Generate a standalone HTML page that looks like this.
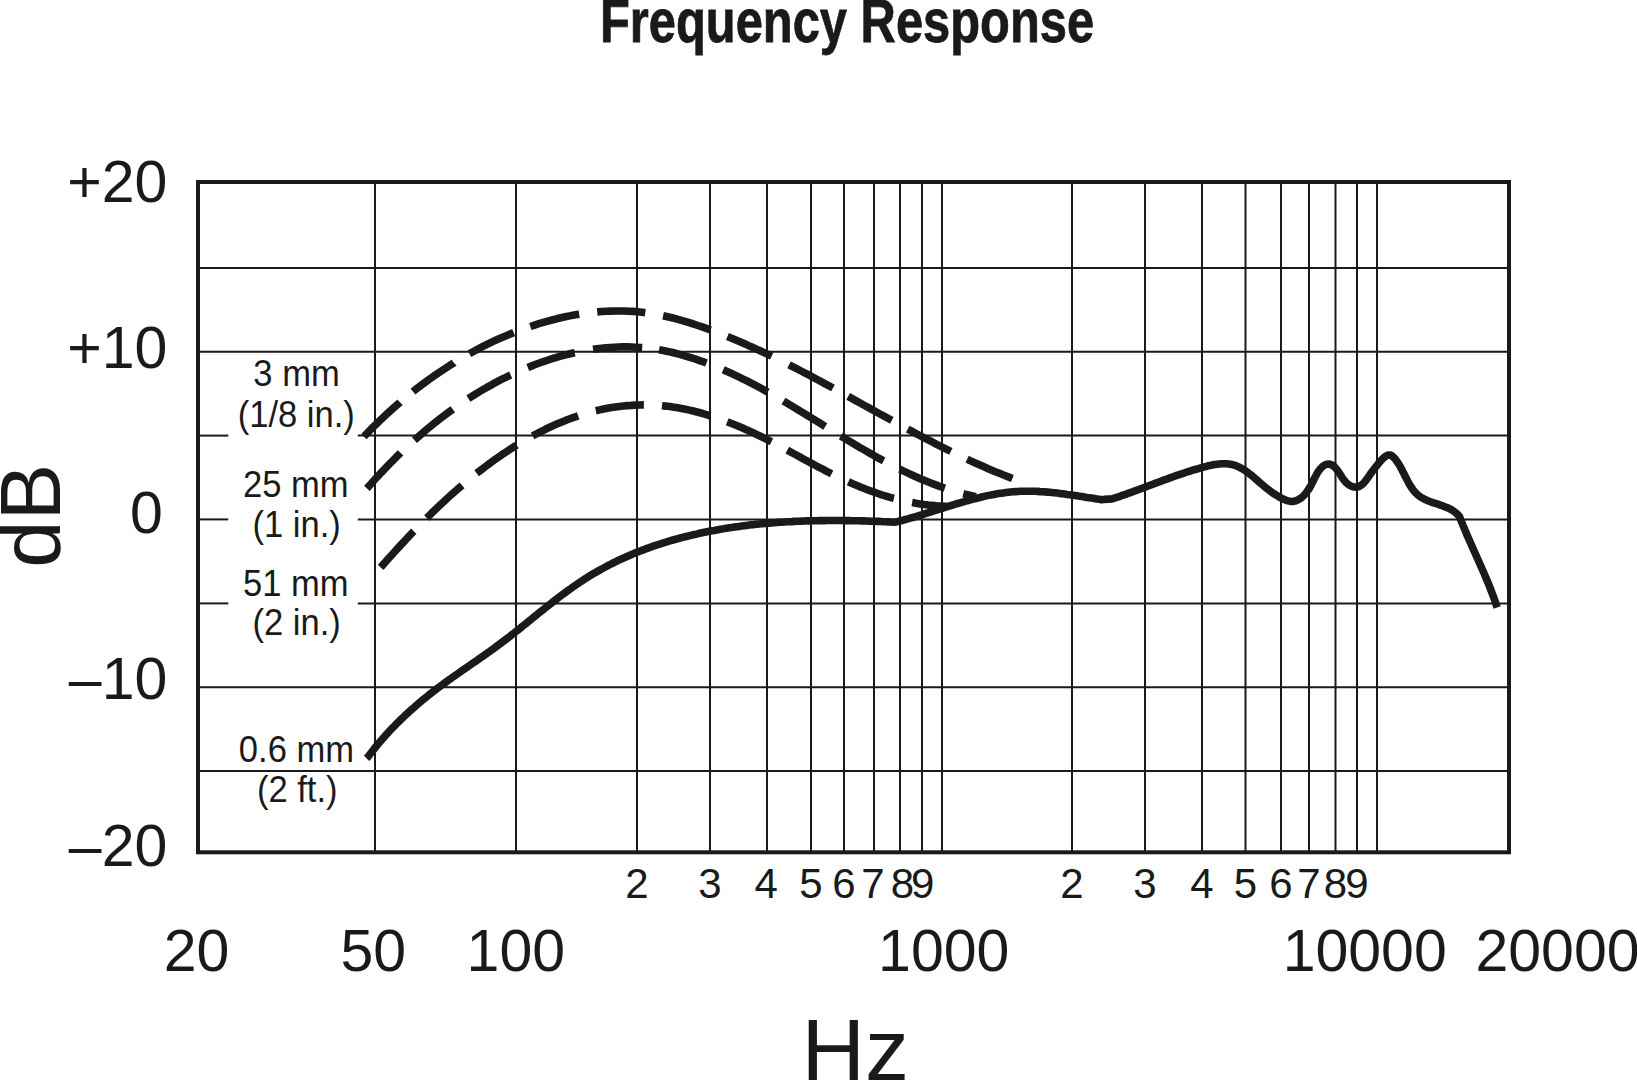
<!DOCTYPE html>
<html><head><meta charset="utf-8"><style>
html,body{margin:0;padding:0;background:#fff;width:1637px;height:1080px;overflow:hidden}
svg{position:absolute;left:0;top:0;display:block}
text{font-family:"Liberation Sans",sans-serif;fill:#1a1a1a}
</style></head><body>
<svg width="1637" height="1080" viewBox="0 0 1637 1080">
<g stroke="#1a1a1a" stroke-width="2" fill="none">
<line x1="375" y1="182" x2="375" y2="852.3"/>
<line x1="516" y1="182" x2="516" y2="852.3"/>
<line x1="637" y1="182" x2="637" y2="852.3"/>
<line x1="710" y1="182" x2="710" y2="852.3"/>
<line x1="767" y1="182" x2="767" y2="852.3"/>
<line x1="811" y1="182" x2="811" y2="852.3"/>
<line x1="844" y1="182" x2="844" y2="852.3"/>
<line x1="874" y1="182" x2="874" y2="852.3"/>
<line x1="900" y1="182" x2="900" y2="852.3"/>
<line x1="922" y1="182" x2="922" y2="852.3"/>
<line x1="942" y1="182" x2="942" y2="852.3"/>
<line x1="1072" y1="182" x2="1072" y2="852.3"/>
<line x1="1145" y1="182" x2="1145" y2="852.3"/>
<line x1="1202" y1="182" x2="1202" y2="852.3"/>
<line x1="1245.5" y1="182" x2="1245.5" y2="852.3"/>
<line x1="1281" y1="182" x2="1281" y2="852.3"/>
<line x1="1309" y1="182" x2="1309" y2="852.3"/>
<line x1="1335.5" y1="182" x2="1335.5" y2="852.3"/>
<line x1="1357" y1="182" x2="1357" y2="852.3"/>
<line x1="1377" y1="182" x2="1377" y2="852.3"/>
<line x1="198" y1="268" x2="1509" y2="268"/>
<line x1="198" y1="351.7" x2="1509" y2="351.7"/>
<line x1="198" y1="435.6" x2="228.3" y2="435.6"/>
<line x1="357.8" y1="435.6" x2="1509" y2="435.6"/>
<line x1="198" y1="519.4" x2="228.3" y2="519.4"/>
<line x1="357.8" y1="519.4" x2="1509" y2="519.4"/>
<line x1="198" y1="603.4" x2="228.3" y2="603.4"/>
<line x1="357.8" y1="603.4" x2="1509" y2="603.4"/>
<line x1="198" y1="687.2" x2="1509" y2="687.2"/>
<line x1="198" y1="771.1" x2="1509" y2="771.1"/>
</g>
<rect x="198" y="182" width="1311" height="670.3" fill="none" stroke="#1a1a1a" stroke-width="4"/>
<g stroke="#1a1a1a" stroke-width="7.6" fill="none" stroke-linecap="butt" stroke-linejoin="round">
<path d="M366.5 758.3 L368.2 756.6 L369.7 754.5 L371.3 752.5 L372.8 750.6 L374.4 748.6 L375.9 746.6 L377.5 744.7 L379.1 742.8 L380.8 740.9 L382.4 739.0 L384.1 737.1 L385.7 735.2 L387.4 733.4 L389.1 731.5 L390.8 729.7 L392.5 727.9 L394.3 726.1 L396.0 724.3 L397.8 722.6 L399.6 720.8 L401.3 719.1 L403.1 717.4 L404.9 715.6 L406.8 713.9 L408.6 712.3 L410.4 710.6 L412.3 708.9 L414.2 707.3 L416.0 705.7 L417.9 704.0 L419.8 702.4 L421.7 700.8 L423.6 699.3 L425.5 697.7 L427.5 696.1 L429.4 694.6 L431.4 693.0 L433.3 691.5 L435.3 690.0 L437.2 688.5 L439.2 687.0 L441.2 685.5 L443.2 684.1 L445.2 682.6 L447.2 681.1 L449.2 679.7 L451.2 678.3 L453.2 676.8 L455.3 675.4 L457.3 674.0 L459.3 672.6 L461.4 671.1 L463.4 669.7 L465.4 668.3 L467.5 666.9 L469.5 665.5 L471.5 664.1 L473.6 662.7 L475.6 661.3 L477.7 659.9 L479.7 658.4 L481.7 657.0 L483.8 655.6 L485.8 654.2 L487.8 652.7 L489.9 651.3 L491.9 649.8 L493.9 648.4 L495.9 646.9 L497.9 645.4 L499.9 643.9 L501.9 642.4 L503.9 640.9 L505.9 639.4 L507.9 637.9 L509.8 636.4 L511.8 634.8 L513.8 633.3 L515.7 631.7 L517.7 630.2 L519.7 628.6 L521.6 627.0 L523.6 625.4 L525.5 623.9 L527.5 622.3 L529.4 620.7 L531.4 619.1 L533.3 617.6 L535.3 616.0 L537.2 614.4 L539.2 612.8 L541.1 611.3 L543.1 609.7 L545.1 608.1 L547.0 606.6 L549.0 605.0 L551.0 603.5 L552.9 601.9 L554.9 600.4 L556.9 598.9 L558.9 597.3 L560.9 595.8 L562.8 594.3 L564.8 592.9 L566.8 591.4 L568.9 589.9 L570.9 588.5 L572.9 587.0 L574.9 585.6 L577.0 584.2 L579.0 582.8 L581.1 581.4 L583.2 580.1 L585.2 578.7 L587.3 577.4 L589.4 576.1 L591.5 574.8 L593.6 573.5 L595.8 572.3 L597.9 571.1 L600.1 569.9 L602.2 568.7 L604.4 567.5 L606.6 566.3 L608.7 565.2 L610.9 564.1 L613.1 563.0 L615.3 561.9 L617.6 560.8 L619.8 559.7 L622.0 558.7 L624.3 557.7 L626.5 556.7 L628.8 555.7 L631.0 554.7 L633.3 553.8 L635.6 552.8 L637.9 551.9 L640.2 551.0 L642.5 550.1 L644.8 549.3 L647.1 548.4 L649.4 547.6 L651.8 546.7 L654.1 545.9 L656.5 545.1 L658.8 544.4 L661.2 543.6 L663.5 542.8 L665.9 542.1 L668.3 541.4 L670.6 540.7 L673.0 540.0 L675.4 539.3 L677.8 538.7 L680.2 538.0 L682.6 537.4 L685.0 536.8 L687.5 536.2 L689.9 535.6 L692.3 535.0 L694.7 534.4 L697.2 533.9 L699.6 533.3 L702.1 532.8 L704.5 532.3 L707.0 531.8 L709.4 531.3 L711.9 530.8 L714.3 530.4 L716.8 529.9 L719.3 529.5 L721.8 529.1 L724.2 528.6 L726.7 528.2 L729.2 527.8 L731.7 527.5 L734.2 527.1 L736.6 526.7 L739.1 526.4 L741.6 526.1 L744.1 525.7 L746.6 525.4 L749.1 525.1 L751.6 524.8 L754.1 524.6 L756.6 524.3 L759.1 524.0 L761.6 523.8 L764.2 523.6 L766.7 523.3 L769.2 523.1 L771.7 522.9 L774.2 522.7 L776.7 522.5 L779.2 522.3 L781.7 522.2 L784.2 522.0 L786.7 521.8 L789.3 521.7 L791.8 521.6 L794.3 521.4 L796.8 521.3 L799.3 521.2 L801.8 521.1 L804.3 521.0 L806.8 520.9 L809.3 520.9 L811.8 520.8 L814.3 520.7 L816.8 520.7 L819.3 520.6 L821.8 520.6 L824.3 520.6 L826.8 520.5 L829.3 520.5 L831.8 520.5 L834.3 520.5 L836.8 520.5 L839.3 520.5 L841.7 520.5 L844.2 520.6 L846.7 520.6 L849.2 520.6 L851.6 520.7 L854.1 520.7 L856.6 520.7 L859.0 520.8 L861.5 520.9 L863.9 520.9 L866.4 521.0 L868.8 521.1 L871.2 521.2 L873.7 521.3 L876.1 521.4 L878.5 521.4 L881.0 521.5 L883.4 521.7 L885.8 521.8 L888.2 521.9 L890.6 522.0 L893.5 522.3 L896.0 522.0 L898.4 521.4 L900.7 520.8 L903.1 520.2 L905.5 519.5 L907.8 518.9 L910.2 518.2 L912.6 517.5 L915.0 516.8 L917.3 516.1 L919.7 515.4 L922.1 514.7 L924.4 513.9 L926.8 513.2 L929.2 512.4 L931.6 511.7 L933.9 510.9 L936.3 510.2 L938.7 509.4 L941.1 508.7 L943.4 507.9 L945.8 507.2 L948.2 506.4 L950.6 505.7 L953.0 505.0 L955.3 504.2 L957.7 503.5 L960.1 502.8 L962.5 502.1 L964.9 501.4 L967.3 500.7 L969.7 500.1 L972.1 499.4 L974.5 498.8 L976.9 498.2 L979.3 497.6 L981.7 497.0 L984.1 496.4 L986.5 495.9 L988.9 495.4 L991.3 494.9 L993.7 494.5 L996.1 494.0 L998.5 493.6 L1000.9 493.2 L1003.4 492.9 L1005.8 492.6 L1008.2 492.3 L1010.7 492.0 L1013.1 491.8 L1015.5 491.6 L1018.0 491.5 L1020.4 491.3 L1022.8 491.3 L1025.3 491.2 L1027.7 491.2 L1030.2 491.2 L1032.6 491.3 L1035.1 491.3 L1037.6 491.4 L1040.0 491.6 L1042.5 491.7 L1044.9 491.9 L1047.4 492.1 L1049.9 492.3 L1052.3 492.6 L1054.8 492.8 L1057.3 493.1 L1059.7 493.4 L1062.2 493.7 L1064.7 494.0 L1067.1 494.4 L1069.6 494.7 L1072.1 495.1 L1074.5 495.4 L1077.0 495.8 L1079.4 496.2 L1081.9 496.6 L1084.4 497.0 L1086.8 497.4 L1089.3 497.7 L1091.7 498.1 L1094.2 498.5 L1096.6 498.9 L1099.1 499.3 L1101.5 499.7 L1104.0 499.4 L1112.0 498.9 L1120.0 496.3 L1122.3 495.4 L1124.7 494.6 L1127.0 493.8 L1129.4 492.9 L1131.7 492.1 L1134.1 491.2 L1136.4 490.4 L1138.8 489.5 L1141.1 488.7 L1143.4 487.8 L1145.8 486.9 L1148.1 486.0 L1150.4 485.2 L1152.8 484.3 L1155.1 483.4 L1157.4 482.5 L1159.8 481.7 L1162.1 480.8 L1164.4 479.9 L1166.8 479.1 L1169.1 478.2 L1171.4 477.4 L1173.8 476.5 L1176.1 475.7 L1178.5 474.9 L1180.9 474.1 L1183.2 473.3 L1185.6 472.5 L1188.0 471.7 L1190.4 471.0 L1192.8 470.2 L1195.2 469.5 L1197.6 468.8 L1200.0 468.1 L1202.4 467.4 L1204.9 466.8 L1207.3 466.1 L1209.8 465.6 L1212.2 465.0 L1214.7 464.6 L1217.1 464.2 L1219.5 463.9 L1222.0 463.8 L1224.4 463.7 L1226.7 463.8 L1229.1 464.0 L1231.4 464.4 L1233.8 465.0 L1236.0 465.7 L1238.3 466.7 L1240.5 467.8 L1242.7 469.0 L1244.8 470.4 L1246.9 471.8 L1249.0 473.4 L1251.1 475.0 L1253.1 476.7 L1255.1 478.5 L1257.1 480.2 L1259.0 481.9 L1261.0 483.6 L1262.9 485.2 L1264.8 486.8 L1266.7 488.4 L1268.6 489.8 L1270.5 491.3 L1272.4 492.7 L1274.4 494.0 L1276.5 495.3 L1278.6 496.6 L1280.9 497.9 L1283.2 499.1 L1285.6 500.1 L1288.0 500.9 L1290.4 501.4 L1292.7 501.5 L1294.9 501.1 L1297.1 500.3 L1299.2 499.2 L1301.2 497.8 L1303.1 496.2 L1304.9 494.3 L1306.5 492.3 L1308.1 490.1 L1309.6 487.8 L1310.9 485.5 L1312.1 483.1 L1313.3 480.8 L1314.4 478.4 L1315.6 476.2 L1316.8 474.0 L1318.0 471.9 L1319.4 469.9 L1321.0 468.1 L1322.7 466.4 L1324.6 465.1 L1326.6 464.2 L1328.7 464.0 L1330.8 464.5 L1332.8 465.5 L1334.6 467.0 L1336.2 468.8 L1337.8 470.9 L1339.4 473.2 L1340.9 475.6 L1342.4 478.0 L1344.1 480.2 L1345.8 482.3 L1347.7 484.0 L1349.7 485.4 L1351.8 486.4 L1354.1 487.0 L1356.2 487.1 L1358.4 486.7 L1360.4 485.8 L1362.3 484.4 L1364.0 482.7 L1365.7 480.6 L1367.3 478.5 L1368.8 476.3 L1370.3 474.1 L1371.8 472.1 L1373.3 470.0 L1374.9 468.0 L1376.6 465.9 L1378.4 463.6 L1380.2 461.4 L1382.2 459.2 L1384.2 457.3 L1386.2 455.9 L1388.2 455.0 L1390.1 455.0 L1391.9 455.8 L1393.6 457.3 L1395.2 459.1 L1396.6 461.0 L1398.0 463.0 L1399.3 465.1 L1400.6 467.3 L1401.8 469.5 L1402.9 471.7 L1404.1 474.0 L1405.2 476.3 L1406.4 478.6 L1407.5 480.8 L1408.7 483.0 L1410.0 485.2 L1411.3 487.3 L1412.7 489.3 L1414.2 491.2 L1415.8 493.0 L1417.5 494.6 L1419.3 496.1 L1421.3 497.5 L1423.5 498.7 L1425.7 499.8 L1428.0 500.8 L1430.4 501.7 L1432.9 502.6 L1435.4 503.4 L1437.9 504.2 L1440.4 505.1 L1442.9 505.9 L1445.3 506.9 L1447.6 507.8 L1449.9 508.9 L1452.1 510.1 L1454.1 511.5 L1456.1 513.0 L1457.8 514.7 L1459.5 516.5 L1460.4 518.8 L1461.3 521.1 L1462.2 523.4 L1463.1 525.7 L1464.1 527.9 L1465.0 530.2 L1466.0 532.5 L1466.9 534.7 L1467.9 537.0 L1468.9 539.3 L1469.9 541.5 L1470.9 543.8 L1471.9 546.0 L1472.9 548.3 L1473.9 550.5 L1474.9 552.8 L1475.9 555.0 L1476.9 557.3 L1477.9 559.5 L1478.9 561.8 L1479.9 564.0 L1480.9 566.3 L1481.9 568.5 L1482.9 570.8 L1483.9 573.0 L1484.9 575.3 L1485.8 577.6 L1486.8 579.8 L1487.7 582.1 L1488.7 584.4 L1489.6 586.7 L1490.5 589.0 L1491.4 591.3 L1492.3 593.6 L1493.1 595.9 L1494.0 598.2 L1494.8 600.5 L1495.6 602.8 L1496.4 605.2 L1497.2 607.5"/>
<path d="M363.9 436.6 L367.0 433.4 L370.1 430.2 L373.2 427.0 L376.4 423.9 L379.6 420.8 L382.9 417.7 L386.2 414.6 L389.5 411.6 L392.8 408.6 L396.2 405.6 L399.6 402.7 L400.0 402.3 M413.0 391.6 L416.5 388.8 L420.1 386.1 L423.8 383.3 L427.4 380.7 L431.1 378.0 L434.8 375.4 L438.5 372.8 L442.3 370.3 L446.1 367.8 L449.9 365.3 L453.8 362.9 L453.9 362.8 M469.4 353.7 L473.4 351.5 L477.4 349.3 L481.5 347.2 L485.5 345.2 L489.6 343.2 L493.7 341.2 L497.8 339.3 L502.0 337.5 L506.2 335.7 L510.4 333.9 L513.7 332.6 M530.3 326.5 L534.6 325.1 L538.9 323.7 L543.3 322.4 L547.7 321.1 L552.1 320.0 L556.5 318.8 L560.9 317.8 L565.3 316.8 L569.7 315.9 L574.2 315.0 L578.6 314.3 L579.2 314.2 M597.2 311.9 L601.7 311.5 L606.2 311.3 L610.7 311.1 L615.2 311.0 L619.6 311.0 L624.1 311.0 L628.6 311.2 L633.0 311.4 L637.5 311.8 L641.9 312.2 L645.3 312.7 M663.1 315.7 L667.5 316.7 L671.9 317.8 L676.2 318.9 L680.6 320.1 L684.9 321.3 L689.2 322.7 L693.5 324.0 L697.8 325.5 L702.1 326.9 L706.3 328.4 L710.6 330.0 M727.4 336.5 L731.6 338.2 L735.8 340.0 L739.9 341.7 L744.1 343.5 L748.2 345.4 L752.4 347.2 L756.5 349.1 L760.6 351.0 L764.7 352.9 L768.8 354.8 L771.7 356.2 M789.0 364.8 L793.1 366.9 L797.1 368.9 L801.1 371.0 L805.2 373.1 L809.2 375.2 L813.2 377.3 L817.2 379.5 L821.2 381.6 L825.2 383.8 L829.1 385.9 L833.0 388.0 M848.2 396.4 L852.2 398.6 L856.2 400.8 L860.2 403.0 L864.1 405.2 L868.1 407.4 L872.1 409.6 L876.0 411.8 L880.0 414.0 L884.0 416.1 L887.9 418.3 L891.8 420.4 M907.7 429.1 L911.7 431.2 L915.7 433.3 L919.7 435.5 L923.7 437.6 L927.7 439.7 L931.7 441.7 L935.7 443.8 L939.7 445.8 L943.7 447.9 L947.8 449.9 L950.9 451.4 M967.1 459.2 L971.2 461.1 L975.3 462.9 L979.4 464.8 L983.5 466.6 L987.6 468.4 L991.8 470.2 L995.9 471.9 L1000.1 473.6 L1004.2 475.3 L1008.4 476.9 L1012.4 478.5"/>
<path d="M366.9 488.4 L369.8 485.2 L372.6 482.0 L375.5 478.8 L378.4 475.7 L381.3 472.5 L384.3 469.4 L387.2 466.3 L390.2 463.2 L393.3 460.2 L396.3 457.1 L399.4 454.1 L400.6 452.9 M414.4 440.1 L417.6 437.3 L420.9 434.5 L424.1 431.6 L427.4 428.9 L430.8 426.1 L434.1 423.4 L437.5 420.7 L440.9 418.1 L444.3 415.5 L447.8 412.9 L451.3 410.4 L452.8 409.3 M468.4 398.6 L472.1 396.3 L475.7 394.0 L479.4 391.8 L483.1 389.6 L486.8 387.4 L490.6 385.3 L494.4 383.2 L498.2 381.2 L502.0 379.2 L505.9 377.3 L509.8 375.4 L510.7 375.0 M527.8 367.5 L531.8 365.9 L535.9 364.3 L540.0 362.8 L544.1 361.4 L548.2 360.0 L552.3 358.7 L556.5 357.4 L560.7 356.2 L564.8 355.1 L569.1 354.0 L573.3 353.0 L574.8 352.7 M593.0 349.3 L597.2 348.7 L601.5 348.2 L605.8 347.8 L610.1 347.5 L614.4 347.2 L618.6 347.0 L622.9 346.9 L627.2 346.9 L631.5 347.0 L635.7 347.2 L640.0 347.5 L642.2 347.6 M659.0 349.8 L663.2 350.6 L667.4 351.4 L671.5 352.3 L675.7 353.3 L679.8 354.4 L684.0 355.6 L688.1 356.8 L692.2 358.0 L696.3 359.4 L700.3 360.8 L704.4 362.2 L706.5 363.0 M723.2 369.8 L727.1 371.5 L731.0 373.2 L734.9 375.1 L738.8 376.9 L742.6 378.8 L746.5 380.7 L750.3 382.7 L754.1 384.7 L757.9 386.7 L761.7 388.7 L765.5 390.8 L767.8 392.1 M783.5 401.1 L787.2 403.3 L791.0 405.5 L794.7 407.7 L798.4 410.0 L802.1 412.2 L805.8 414.5 L809.5 416.8 L813.2 419.0 L816.9 421.3 L820.6 423.6 L824.3 425.9 L825.3 426.5 M840.8 436.0 L844.5 438.3 L848.2 440.5 L852.0 442.8 L855.7 445.0 L859.4 447.2 L863.1 449.3 L866.9 451.5 L870.6 453.6 L874.4 455.8 L878.1 457.8 L881.9 459.9 L883.6 460.8 M899.8 469.2 L903.6 471.1 L907.5 472.9 L911.4 474.7 L915.3 476.5 L919.2 478.2 L923.1 479.9 L927.1 481.5 L931.0 483.1 L935.0 484.6 L939.0 486.1 L943.1 487.5 L944.9 488.1 M963.3 493.7 L967.4 494.8 L971.6 495.8 L975.9 496.8 L976.2 496.8"/>
<path d="M380.6 567.4 L383.3 564.4 L385.9 561.4 L388.6 558.4 L391.3 555.5 L393.9 552.5 L396.6 549.6 L399.3 546.6 L402.0 543.7 L404.8 540.8 L407.5 537.8 L410.3 534.9 L413.0 532.0 L413.8 531.2 M426.8 518.0 L429.7 515.1 L432.5 512.3 L435.4 509.5 L438.3 506.8 L441.2 504.0 L444.2 501.3 L447.1 498.5 L450.1 495.8 L453.1 493.2 L456.1 490.5 L459.1 487.9 L462.1 485.3 M476.6 473.3 L479.8 470.9 L483.0 468.4 L486.2 466.0 L489.4 463.6 L492.6 461.2 L495.9 458.9 L499.2 456.6 L502.5 454.3 L505.9 452.1 L509.2 449.9 L512.6 447.7 L516.0 445.6 L516.6 445.2 M532.6 435.9 L536.2 434.0 L539.8 432.1 L543.4 430.3 L547.0 428.5 L550.7 426.8 L554.3 425.1 L558.0 423.5 L561.8 421.9 L565.5 420.4 L569.3 419.0 L573.0 417.6 L576.8 416.3 L578.2 415.8 M595.8 410.8 L599.7 409.9 L603.6 409.0 L607.5 408.3 L611.5 407.6 L615.4 407.0 L619.4 406.5 L623.3 406.0 L627.3 405.6 L631.3 405.4 L635.3 405.1 L639.3 405.0 L643.3 404.9 L643.9 404.9 M662.0 405.7 L665.9 406.1 L669.9 406.6 L673.8 407.2 L677.7 407.8 L681.6 408.5 L685.5 409.3 L689.4 410.1 L693.3 411.0 L697.1 412.0 L701.0 413.0 L704.8 414.1 L708.7 415.3 L710.2 415.8 M727.2 421.7 L730.9 423.2 L734.7 424.7 L738.4 426.2 L742.1 427.8 L745.8 429.5 L749.5 431.1 L753.2 432.8 L756.9 434.6 L760.5 436.3 L764.2 438.1 L767.8 439.9 L771.4 441.8 M787.3 450.2 L790.8 452.1 L794.4 454.0 L797.9 455.9 L801.4 457.9 L805.0 459.8 L808.5 461.7 L812.0 463.6 L815.6 465.5 L819.1 467.4 L822.7 469.2 L826.2 471.1 L829.8 472.9 L831.6 473.8 M848.4 481.8 L852.1 483.5 L855.7 485.0 L859.4 486.6 L863.0 488.0 L866.7 489.5 L870.4 490.9 L874.2 492.2 L877.9 493.5 L881.7 494.8 L885.5 496.0 L889.3 497.1 L893.1 498.2 L893.9 498.4 M912.1 502.6 L916.1 503.3 L920.1 503.9 L924.1 504.5 L928.2 505.0 L932.3 505.4 L936.4 505.8 L940.6 506.0 L944.7 506.2 L946.8 506.3"/>
</g>
<text x="167.3" y="201.8" font-size="59" text-anchor="end" >+20</text>
<text x="167.3" y="367.7" font-size="59" text-anchor="end" >+10</text>
<text x="162.9" y="533" font-size="59" text-anchor="end" >0</text>
<text x="167.3" y="698.8" font-size="59" text-anchor="end" >&#8211;10</text>
<text x="167.3" y="865.6" font-size="59" text-anchor="end" >&#8211;20</text>
<text transform="translate(296.5 385.6) scale(0.96 1)" font-size="36" text-anchor="middle">3 mm</text>
<text transform="translate(296.3 426.5) scale(0.96 1)" font-size="36" text-anchor="middle">(1/8 in.)</text>
<text transform="translate(295.8 497.2) scale(0.96 1)" font-size="36" text-anchor="middle">25 mm</text>
<text transform="translate(296.7 536.9) scale(0.96 1)" font-size="36" text-anchor="middle">(1 in.)</text>
<text transform="translate(295.8 596) scale(0.96 1)" font-size="36" text-anchor="middle">51 mm</text>
<text transform="translate(296.7 635.2) scale(0.96 1)" font-size="36" text-anchor="middle">(2 in.)</text>
<text transform="translate(296.4 762.2) scale(0.96 1)" font-size="36" text-anchor="middle">0.6 mm</text>
<text transform="translate(297.2 801.9) scale(0.96 1)" font-size="36" text-anchor="middle">(2 ft.)</text>
<text x="637" y="897.8" font-size="42" text-anchor="middle" >2</text>
<text x="710" y="897.8" font-size="42" text-anchor="middle" >3</text>
<text x="766.3" y="897.8" font-size="42" text-anchor="middle" >4</text>
<text x="811" y="897.8" font-size="42" text-anchor="middle" >5</text>
<text x="844" y="897.8" font-size="42" text-anchor="middle" >6</text>
<text x="873" y="897.8" font-size="42" text-anchor="middle" >7</text>
<text x="902.5" y="897.8" font-size="42" text-anchor="middle" >8</text>
<text x="922.7" y="897.8" font-size="42" text-anchor="middle" >9</text>
<text x="1072" y="897.8" font-size="42" text-anchor="middle" >2</text>
<text x="1145" y="897.8" font-size="42" text-anchor="middle" >3</text>
<text x="1202" y="897.8" font-size="42" text-anchor="middle" >4</text>
<text x="1245.5" y="897.8" font-size="42" text-anchor="middle" >5</text>
<text x="1281" y="897.8" font-size="42" text-anchor="middle" >6</text>
<text x="1309" y="897.8" font-size="42" text-anchor="middle" >7</text>
<text x="1335.5" y="897.8" font-size="42" text-anchor="middle" >8</text>
<text x="1357" y="897.8" font-size="42" text-anchor="middle" >9</text>
<text x="196.6" y="971.2" font-size="59" text-anchor="middle" >20</text>
<text x="373.2" y="971.2" font-size="59" text-anchor="middle" >50</text>
<text x="515.8" y="971.2" font-size="59" text-anchor="middle" >100</text>
<text x="943.7" y="971.2" font-size="59" text-anchor="middle" >1000</text>
<text x="1364.7" y="971.2" font-size="59" text-anchor="middle" >10000</text>
<text x="1557.5" y="971.2" font-size="59" text-anchor="middle" >20000</text>
<text transform="translate(59.7 567.8) rotate(-90)" font-size="85">dB</text>
<text x="855.3" y="1079.5" font-size="88" text-anchor="middle">Hz</text>
<text transform="translate(600 42) scale(0.801 1)" font-size="61" font-weight="bold" stroke="#1a1a1a" stroke-width="0.8">Frequency Response</text>
</svg>
</body></html>
